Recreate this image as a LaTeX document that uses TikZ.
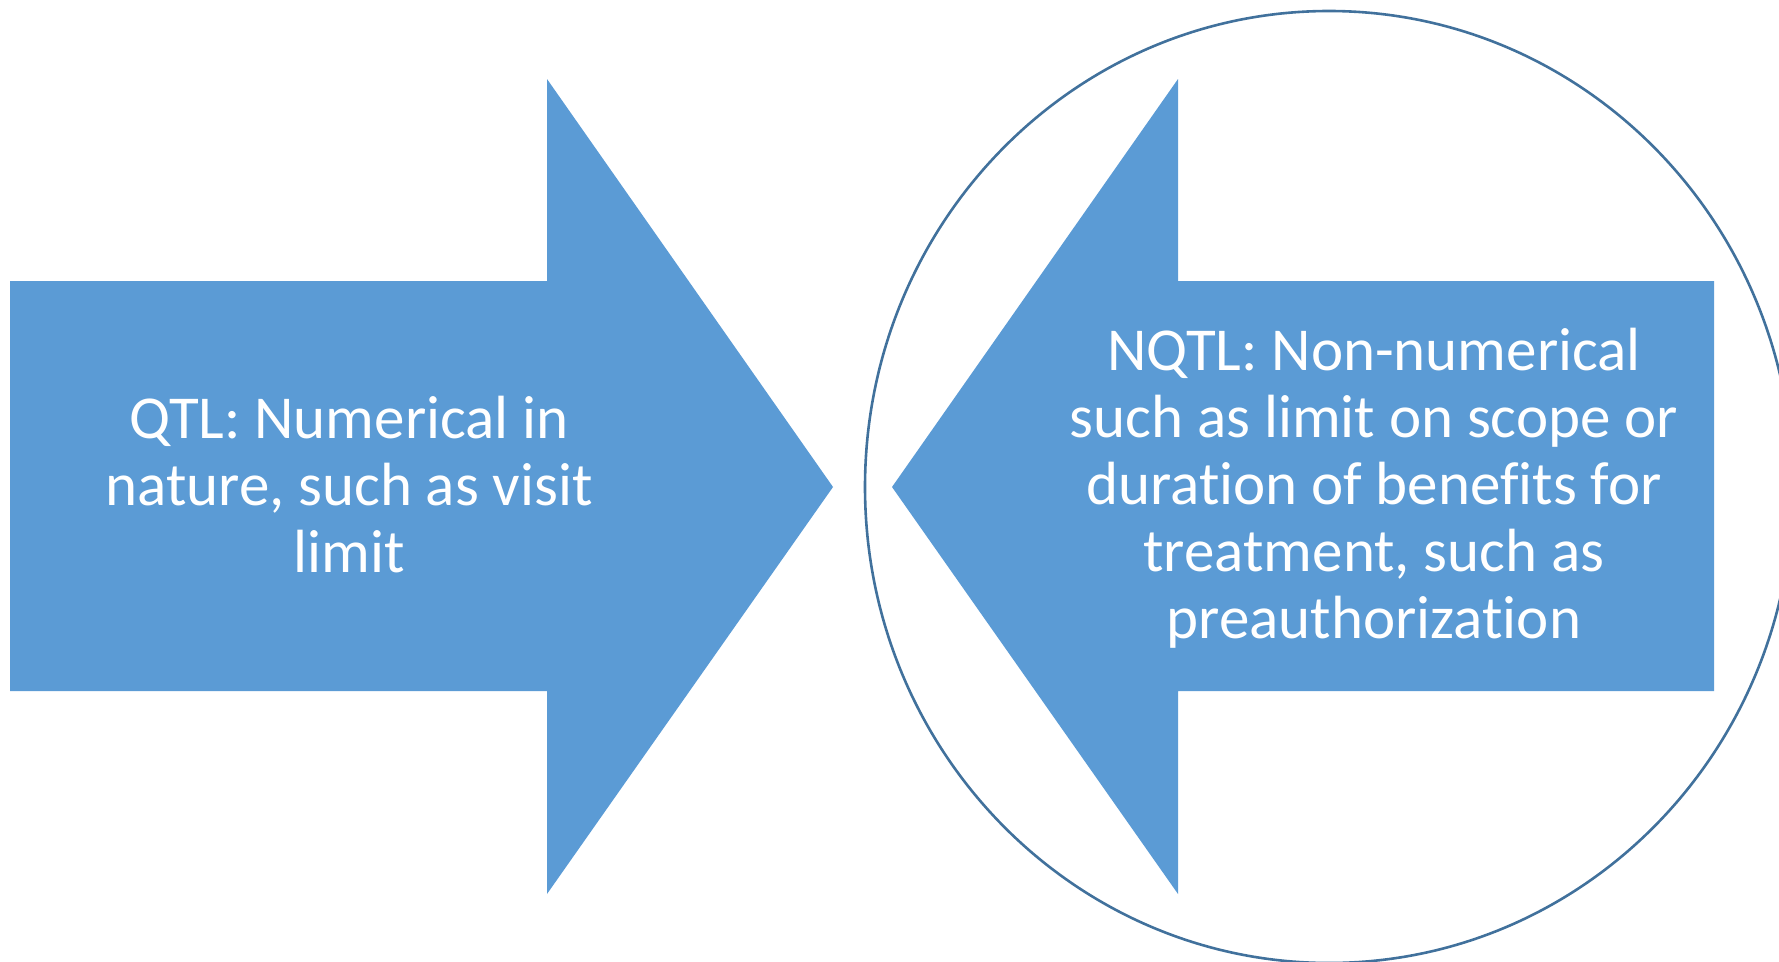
\documentclass[tikz,border=0pt]{standalone}
\usepackage{fontspec}
\setmainfont[Ligatures={NoCommon}]{Carlito}
\definecolor{arrowfill}{HTML}{5B9BD5}
\definecolor{ringline}{HTML}{41719C}
\begin{document}
\begin{tikzpicture}[x=1pt,y=-1pt,
  bigarrow/.style={fill=arrowfill,draw=none},
  ring/.style={draw=ringline,line width=2.6pt},
  label/.style={text=white,align=center,inner sep=0pt,
    font=\fontsize{61}{67}\selectfont}]
\useasboundingbox (0,0) rectangle (1779,961);
\begin{scope}
\clip (0,0) rectangle (1779,961);
% outline ring behind the right-hand arrow
\draw[ring] (1329,487) ellipse [x radius=464, y radius=476];
\end{scope}
% right-pointing arrow
\fill[bigarrow] (10,281) -- (547,281) -- (547,79) -- (833,487)
  -- (547,894) -- (547,691) -- (10,691) -- cycle;
% left-pointing arrow
\fill[bigarrow] (1714,281) -- (1178,281) -- (1178,79) -- (892,487)
  -- (1178,894) -- (1178,691) -- (1714,691) -- cycle;
\node[label] (qtl) at (349,485) {QTL: Numerical in\\nature, such as visit\\limit};
\node[label] (nqtl) at (1374,488) {NQTL: Non-numerical\\such as limit on scope or\\duration of benefits for\\treatment, such as\\preauthorization};
\end{tikzpicture}
\end{document}
